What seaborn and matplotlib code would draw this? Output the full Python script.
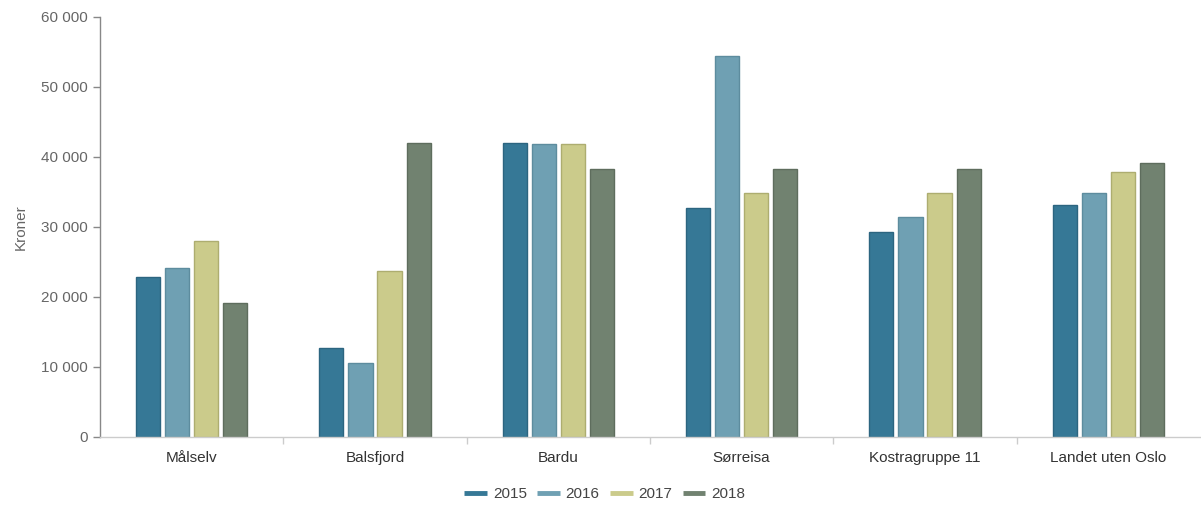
import matplotlib
matplotlib.use("Agg")
import matplotlib.pyplot as plt
from matplotlib.lines import Line2D
from matplotlib.ticker import FuncFormatter, FixedLocator
import seaborn as sns
import pandas as pd

# Municipalities / groups on the x axis
categories = ["Målselv", "Balsfjord", "Bardu", "Sørreisa", "Kostragruppe 11", "Landet uten Oslo"]
years = ["2015", "2016", "2017", "2018"]

# Kroner per category, one list per year
values_2015 = [22800, 12700, 42000, 32700, 29300, 33200]
values_2016 = [24100, 10600, 41900, 54400, 31500, 34900]
values_2017 = [28000, 23700, 41800, 34900, 34800, 37900]
values_2018 = [19200, 42000, 38300, 38300, 38300, 39200]

fill_colors = ["#367896", "#6fa0b3", "#cbcb8b", "#718270"]
edge_colors = ["#2c6580", "#5d8c9e", "#adad70", "#5e6d5d"]

series = [values_2015, values_2016, values_2017, values_2018]
df = pd.DataFrame(
    [(c, y, v) for y, vals in zip(years, series) for c, v in zip(categories, vals)],
    columns=["kategori", "år", "kroner"],
)

sns.set_theme(style="white")
plt.rcParams["font.family"] = ["Liberation Sans", "DejaVu Sans"]

fig = plt.figure(figsize=(12.01, 5.07), dpi=100)
ax = fig.add_axes([100 / 1201, 70 / 507, 1100 / 1201, 420 / 507])

sns.barplot(
    data=df, x="kategori", y="kroner", hue="år", order=categories, hue_order=years,
    palette=fill_colors, saturation=1, width=0.634, gap=0.17, legend=False, ax=ax,
    linewidth=1,
)
for container, ec in zip(ax.containers, edge_colors):
    for bar in container:
        bar.set_edgecolor(ec)

ax.set_xlim(-0.5, 5.5)
ax.set_ylim(0, 60000)
ax.set_yticks(range(0, 60001, 10000))
ax.yaxis.set_major_formatter(FuncFormatter(lambda v, _: f"{int(v):,}".replace(",", " ")))

ax.set_xlabel("")
ax.set_ylabel("Kroner", fontsize=11, color="#666666", labelpad=9)

for side in ["top", "right"]:
    ax.spines[side].set_visible(False)
ax.spines["left"].set_color("#888888")
ax.spines["left"].set_linewidth(1)
ax.spines["bottom"].set_color("#cccccc")
ax.spines["bottom"].set_linewidth(1)

ax.tick_params(axis="y", which="major", direction="out", length=5, width=1,
               color="#888888", labelcolor="#666666", labelsize=11, pad=4, left=True)
ax.tick_params(axis="x", which="major", length=0, labelcolor="#333333", labelsize=11, pad=10)
ax.xaxis.set_minor_locator(FixedLocator([0.5, 1.5, 2.5, 3.5, 4.5]))
ax.tick_params(axis="x", which="minor", direction="out", length=5, width=1,
               color="#cccccc", bottom=True)

handles = [Line2D([0], [0], color=c, lw=3.5, solid_capstyle="butt") for c in fill_colors]
fig.legend(handles, years, loc="center", bbox_to_anchor=(605 / 1201, 1 - 494 / 507), ncol=4,
           frameon=False, fontsize=11, handlelength=1.45, handletextpad=0.4,
           columnspacing=0.7, labelcolor="#444444")

fig.savefig("out.png", dpi=100, facecolor="white")
